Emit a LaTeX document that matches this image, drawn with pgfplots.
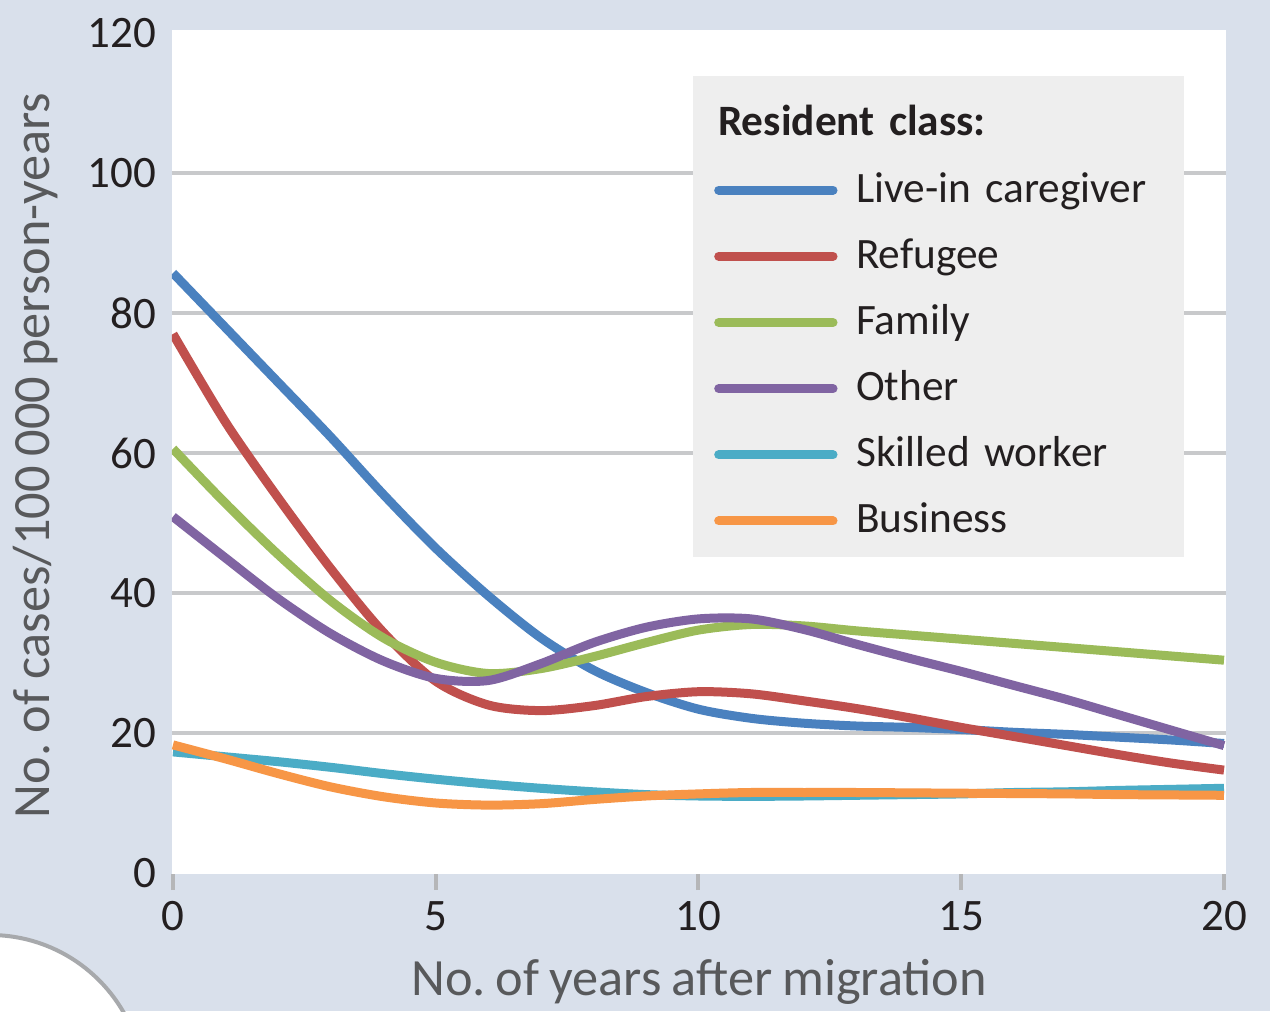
\documentclass[border=0pt]{standalone}
\usepackage{pgfplots}
\pgfplotsset{compat=1.18}
\usepackage{fontspec}
\setmainfont{Carlito}[WordSpace=0.85]
\frenchspacing
\definecolor{bgcol}{HTML}{D9E0EB}
\definecolor{gridgrey}{HTML}{C8C9CB}
\definecolor{tickgrey}{HTML}{B5B6B8}
\definecolor{ringgrey}{HTML}{A7A9AC}
\definecolor{legendgrey}{HTML}{EEEEEE}
\definecolor{labelgrey}{HTML}{58595B}
\definecolor{txt}{HTML}{231F20}
\definecolor{cBlue}{HTML}{4A81BF}
\definecolor{cRed}{HTML}{C0504D}
\definecolor{cGreen}{HTML}{9BBB59}
\definecolor{cPurple}{HTML}{8064A2}
\definecolor{cAqua}{HTML}{4BACC6}
\definecolor{cOrange}{HTML}{F79646}
\begin{document}
\begin{tikzpicture}
\fill[bgcol] (0,0) rectangle (381pt,303.3pt);
\filldraw[fill=white, draw=ringgrey, line width=1.2pt] (-3pt,-23.4pt) circle (46.2pt);
\begin{axis}[
  at={(51.6pt,41.1pt)}, anchor=south west,
  scale only axis, width=316.2pt, height=253.2pt,
  xmin=-0.019, xmax=20.038, ymin=-0.143, ymax=120.43,
  axis background/.style={fill=white},
  axis line style={draw=none},
  tick pos=left, tick align=outside,
  major tick length=4.8pt,
  xtick={0,5,10,15,20},
  ytick={0,20,...,120},
  xtick style={draw=tickgrey, line width=1.2pt},
  ytick style={draw=none},
  extra y ticks={20,40,60,80,100},
  extra y tick labels={},
  extra y tick style={grid=major, tick style={draw=none}},
  major grid style={draw=gridgrey, line width=1.2pt},
  /pgf/number format/assume math mode=true,
  ticklabel style={font=\fontsize{13.5}{16}\selectfont, text=txt},
  yticklabel style={xshift=3.6pt},
  xlabel={No. of years after migration},
  ylabel={No. of cases/100 000 person-years},
  label style={font=\fontsize{15.7}{18}\selectfont, text=labelgrey},
  xlabel style={at={(axis description cs:0.5,-0.1445)}, anchor=base},
  ylabel style={at={(axis description cs:-0.1158,0.496)}, anchor=base, rotate=0},
  legend cell align=left,
  legend image code/.code={\draw[#1, line width=2.7pt, line cap=round] (0.3pt,-1.9pt) -- (34.6pt,-1.9pt);},
  legend style={at={(axis description cs:0.4934,0.9467)}, anchor=north west,
    fill=legendgrey, draw=none, inner xsep=6.45pt, inner ysep=6.1pt,
    row sep=6.85pt, column sep=5.6pt,
    font=\fontsize{13}{15}\selectfont, text=txt,
    nodes={inner sep=0pt, text height=12pt, text depth=1pt},
    /tikz/every even column/.append style={text width=92pt}},
  every axis plot/.append style={line width=2.7pt, smooth},
]
\addlegendimage{empty legend}
\addlegendentry{\hspace*{-41.4pt}\textbf{Resident class:}}
\addplot[cBlue] coordinates {(0,85.7)(1,77.9)(2,70.1)(3,62.3)(4,54.1)(5,46.4)(6,39.6)(7,33.6)(8,29.0)(9,25.8)(10,23.4)(11,22.1)(12,21.4)(13,21.0)(14,20.8)(15,20.5)(16,20.1)(17,19.8)(18,19.4)(19,19.0)(20,18.5)};
\addlegendentry{Live-in caregiver}
\addplot[cRed] coordinates {(0,77)(1,64.4)(2,53.6)(3,43.5)(4,34.4)(5,27.4)(6,24.0)(7,23.2)(8,23.9)(9,25.2)(10,25.9)(11,25.6)(12,24.6)(13,23.5)(14,22.2)(15,20.8)(16,19.5)(17,18.2)(18,16.9)(19,15.7)(20,14.7)};
\addlegendentry{Refugee}
\addplot[cGreen] coordinates {(0,60.6)(1,52.8)(2,45.5)(3,38.9)(4,33.6)(5,30.1)(6,28.5)(7,29.2)(8,30.9)(9,32.9)(10,34.7)(11,35.5)(12,35.3)(13,34.6)(14,34.0)(15,33.4)(16,32.8)(17,32.2)(18,31.6)(19,31.0)(20,30.4)};
\addlegendentry{Family}
\addplot[cPurple] coordinates {(0,50.9)(1,45.0)(2,39.2)(3,34.2)(4,30.3)(5,27.8)(6,27.5)(7,29.9)(8,32.9)(9,35.1)(10,36.3)(11,36.3)(12,34.8)(13,32.7)(14,30.7)(15,28.8)(16,26.8)(17,24.8)(18,22.6)(19,20.4)(20,18.2)};
\addlegendentry{Other}
\addplot[cAqua] coordinates {(0,17.3)(1,16.6)(2,15.9)(3,15.1)(4,14.2)(5,13.4)(6,12.7)(7,12.1)(8,11.6)(9,11.2)(10,11.0)(11,10.95)(12,11.0)(13,11.1)(14,11.2)(15,11.3)(16,11.5)(17,11.6)(18,11.8)(19,11.95)(20,12.1)};
\addlegendentry{Skilled worker}
\addplot[cOrange] coordinates {(0,18.3)(1,16.3)(2,14.2)(3,12.3)(4,10.9)(5,10.0)(6,9.7)(7,9.9)(8,10.5)(9,11.0)(10,11.3)(11,11.5)(12,11.5)(13,11.5)(14,11.45)(15,11.4)(16,11.35)(17,11.3)(18,11.2)(19,11.15)(20,11.1)};
\addlegendentry{Business}
\end{axis}
\pgfresetboundingbox
\useasboundingbox (0,0) rectangle (381pt,303.3pt);
\end{tikzpicture}
\end{document}
